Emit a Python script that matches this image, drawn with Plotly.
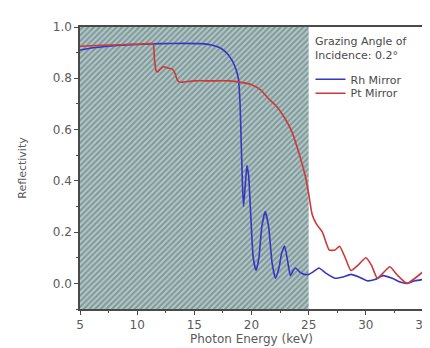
import plotly.graph_objects as go

# Rh mirror reflectivity
rh_energy = [5, 6, 7, 8, 9, 10, 12, 14, 15.5, 16.5, 17.2, 17.8, 18.3, 18.6, 18.85,
             19.0, 19.1, 19.2, 19.3, 19.45, 19.6, 19.75, 19.95, 20.15, 20.4,
             20.65, 20.9, 21.2, 21.5, 21.8, 22.1, 22.4, 22.65, 22.9, 23.15,
             23.4, 23.65, 23.85, 24.2, 24.6, 25.0, 25.4, 25.9, 26.5, 27.3,
             28.0, 28.7, 29.4, 30.1, 30.8, 31.5, 32.3, 33.0, 33.6, 34.3, 35]
rh_refl = [0.91, 0.918, 0.923, 0.927, 0.93, 0.932, 0.935, 0.936, 0.935, 0.93, 0.92, 0.9, 0.87, 0.84, 0.8,
           0.7, 0.55, 0.4, 0.3, 0.38, 0.46, 0.42, 0.25, 0.1, 0.05,
           0.1, 0.22, 0.28, 0.22, 0.08, 0.02, 0.06, 0.12, 0.145, 0.09,
           0.03, 0.05, 0.06, 0.045, 0.035, 0.035, 0.045, 0.06, 0.04, 0.02,
           0.025, 0.035, 0.025, 0.01, 0.015, 0.03, 0.02, 0.005, 0.0, 0.01, 0.015]

# Pt mirror reflectivity
pt_energy = [5, 6, 7, 8, 9, 10, 11, 11.4, 11.5, 11.65,
             11.8, 12.0, 12.3, 12.7, 13.1, 13.3, 13.5, 13.7, 14, 15,
             16, 17, 18, 19, 20, 20.8, 21.5, 22.2, 22.9, 23.5,
             24.0, 24.4, 24.75, 25.0, 25.3, 25.7, 26.2, 26.8, 27.3, 27.7,
             28.2, 28.7, 29.3, 30.0, 30.5, 31.0, 31.5, 32.1, 32.8, 33.6,
             34.3, 35]
pt_refl = [0.925, 0.927, 0.929, 0.93, 0.932, 0.933, 0.935, 0.935, 0.88, 0.83,
           0.825, 0.835, 0.845, 0.84, 0.835, 0.82, 0.795, 0.785, 0.785, 0.79,
           0.79, 0.79, 0.79, 0.785, 0.775, 0.755, 0.72, 0.69, 0.645, 0.595,
           0.53, 0.47, 0.41, 0.35, 0.27, 0.23, 0.2, 0.13, 0.13, 0.145,
           0.1, 0.05, 0.07, 0.1, 0.07, 0.02, 0.04, 0.065, 0.03, 0.0,
           0.02, 0.045]

# Shaded (hatched) energy band
band_x = [5, 25]
y_range = [-0.1, 1.0]

x_ticks = [5, 10, 15, 20, 25, 30, 35]
y_ticks = [0.0, 0.2, 0.4, 0.6, 0.8, 1.0]
y_ticklabels = ["0.0", "0.2", "0.4", "0.6", "0.8", "1.0"]

font_family = "DejaVu Sans, Liberation Sans, Arial, sans-serif"
text_color = "#5a5a5a"
frame_color = "#4a4a4a"

fig = go.Figure()

fig.add_trace(go.Scatter(
    x=[band_x[0], band_x[1], band_x[1], band_x[0], band_x[0]],
    y=[y_range[0], y_range[0], y_range[1], y_range[1], y_range[0]],
    mode="lines", line=dict(width=0), fill="toself",
    fillcolor="#7d999a",
    fillpattern=dict(shape="/", bgcolor="#7d999a", fgcolor="#f0f4f4", size=4, solidity=0.5),
    showlegend=False, hoverinfo="skip"))

fig.add_trace(go.Scatter(x=rh_energy, y=rh_refl, mode="lines", name="Rh Mirror", legend="legend",
                         line=dict(color="#3636c4", width=1.6, shape="spline", smoothing=0.5)))
fig.add_trace(go.Scatter(x=pt_energy, y=pt_refl, mode="lines", name="Pt Mirror", legend="legend2",
                         line=dict(color="#cf3838", width=1.6, shape="spline", smoothing=0.5)))

fig.add_annotation(xref="paper", yref="paper", x=0.679, y=0.924, xanchor="left", yanchor="middle",
                   text="Grazing Angle of<br>Incidence: 0.2°", showarrow=False, align="left",
                   font=dict(family=font_family, size=11, color="#4a4a4a"))

legend_style = dict(xanchor="left", yanchor="top", bgcolor="rgba(0,0,0,0)",
                    font=dict(family=font_family, size=11, color="#4a4a4a"), itemwidth=30)

fig.update_layout(
    width=430, height=348,
    margin=dict(l=72, r=7, t=19, b=47),
    paper_bgcolor="white", plot_bgcolor="white",
    font=dict(family=font_family, color=text_color),
    legend=dict(x=0.672, y=0.866, **legend_style),
    legend2=dict(x=0.672, y=0.8167, **legend_style),
    xaxis=dict(range=[5, 35], tickvals=x_ticks, ticks="outside", ticklen=4, tickwidth=1.2,
               tickcolor=frame_color, showline=True, linecolor=frame_color, linewidth=1.5, mirror=True,
               showgrid=False, zeroline=False, ticklabeloverflow="allow",
               tickfont=dict(size=12, color=text_color),
               minor=dict(ticks="outside", ticklen=2, dtick=2.5, tickcolor=frame_color),
               title=dict(text="Photon Energy (keV)", font=dict(size=12, color=text_color), standoff=3)),
    yaxis=dict(range=y_range, tickvals=y_ticks, ticktext=y_ticklabels, ticks="outside", ticklen=4,
               tickwidth=1.2, tickcolor=frame_color, showline=True, linecolor=frame_color, linewidth=1.5,
               mirror=True, showgrid=False, zeroline=False,
               tickfont=dict(size=12, color=text_color),
               minor=dict(ticks="outside", ticklen=2, dtick=0.1, tickcolor=frame_color),
               title=dict(text="Reflectivity", font=dict(size=11, color=text_color), standoff=24)),
)

fig.write_html("out.html")
